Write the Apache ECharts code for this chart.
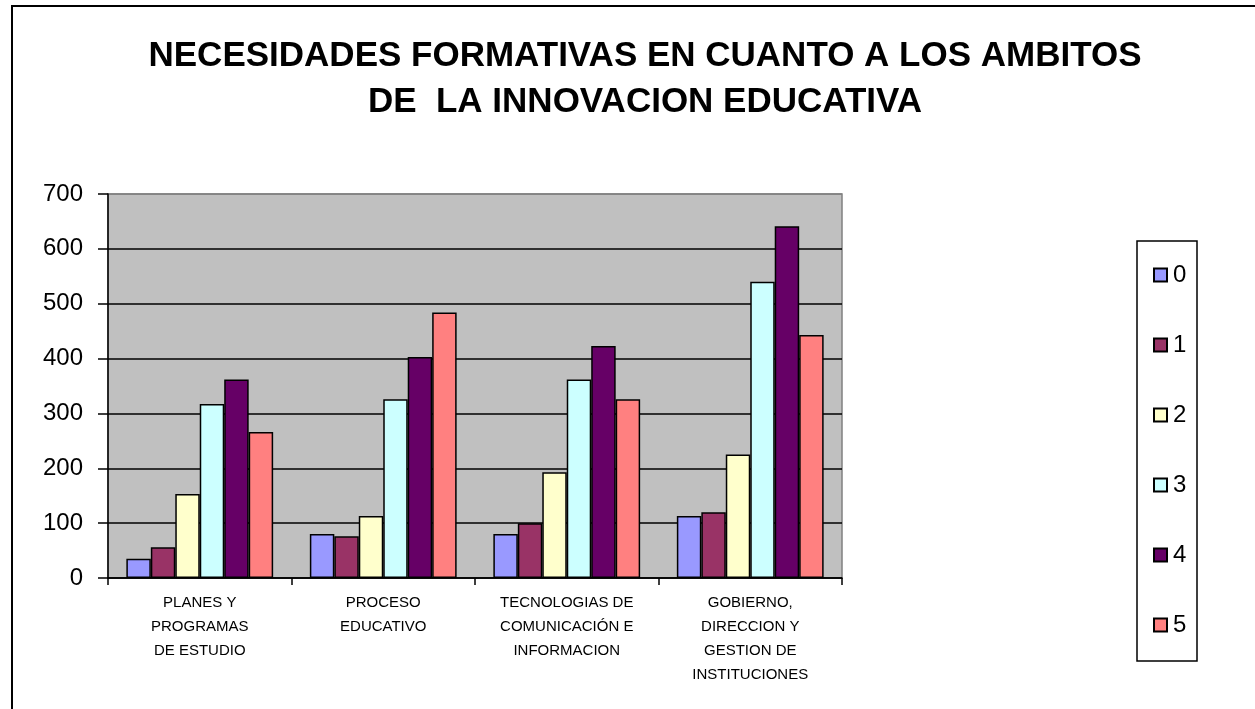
<!DOCTYPE html>
<html>
<head>
<meta charset="utf-8">
<script src="https://cdn.jsdelivr.net/npm/echarts@6/dist/echarts.min.js"></script>
<style>
  html, body { margin: 0; padding: 0; background: #fff; }
  #main { width: 1255px; height: 709px; }
</style>
</head>
<body>
<div id="main"></div>
<script>
var categories = [
  'PLANES Y\nPROGRAMAS\nDE ESTUDIO',
  'PROCESO\nEDUCATIVO',
  'TECNOLOGIAS DE\nCOMUNICACIÓN E\nINFORMACION',
  'GOBIERNO,\nDIRECCION Y\nGESTION DE\nINSTITUCIONES'
];
var seriesNames = ['0', '1', '2', '3', '4', '5'];
var seriesColors = ['#9999FF', '#993366', '#FFFFCC', '#CCFFFF', '#660066', '#FF8080'];

var values0 = [35, 80, 80, 113];
var values1 = [56, 76, 100, 120];
var values2 = [153, 113, 193, 225];
var values3 = [317, 326, 362, 540];
var values4 = [362, 403, 423, 641];
var values5 = [266, 484, 326, 443];
var allValues = [values0, values1, values2, values3, values4, values5];

var font = '"Liberation Sans", Arial, sans-serif';

var chart = echarts.init(document.getElementById('main'));

var series = seriesNames.map(function (name, i) {
  return {
    name: name,
    type: 'bar',
    data: allValues[i],
    barGap: '0%',
    barCategoryGap: '20%',
    itemStyle: {
      color: seriesColors[i],
      borderColor: '#000',
      borderWidth: 1.5
    }
  };
});

var option = {
  backgroundColor: '#fff',
  animation: false,
  title: {
    text: 'NECESIDADES FORMATIVAS EN CUANTO A LOS AMBITOS\nDE  LA INNOVACION EDUCATIVA',
    left: 640,
    top: 28,
    textAlign: 'center',
    textStyle: {
      fontFamily: font,
      fontSize: 35,
      fontWeight: 'bold',
      lineHeight: 46,
      color: '#000'
    }
  },
  graphic: [
    {
      type: 'rect',
      z: 0,
      shape: { x: 12, y: 6, width: 1300, height: 800 },
      style: { fill: 'none', stroke: '#000', lineWidth: 2 }
    },
    {
      type: 'rect',
      z: 0,
      shape: { x: 1137, y: 241, width: 60, height: 420 },
      style: { fill: '#fff', stroke: '#000', lineWidth: 1.5 }
    }
  ],
  legend: {
    orient: 'vertical',
    left: 1153,
    top: 263,
    z: 10,
    padding: 0,
    itemWidth: 13,
    itemHeight: 13,
    itemGap: 46,
    icon: 'rect',
    data: seriesNames,
    textStyle: {
      fontFamily: font,
      fontSize: 24,
      color: '#000',
      padding: [0, 0, 0, 1]
    }
  },
  grid: {
    left: 108,
    top: 194,
    width: 734,
    height: 384,
    show: true,
    backgroundColor: '#C0C0C0',
    borderColor: '#808080',
    borderWidth: 1.5
  },
  xAxis: {
    type: 'category',
    data: categories,
    axisLine: { lineStyle: { color: '#000', width: 1.5 } },
    axisTick: { show: true, length: 7, lineStyle: { color: '#000', width: 1.5 } },
    axisLabel: {
      interval: 0,
      margin: 13,
      fontFamily: font,
      fontSize: 15,
      lineHeight: 24,
      color: '#000'
    }
  },
  yAxis: {
    type: 'value',
    min: 0,
    max: 700,
    interval: 100,
    axisLine: { show: true, lineStyle: { color: '#000', width: 1.5 } },
    axisTick: { show: true, length: 10, lineStyle: { color: '#000', width: 1.5 } },
    axisLabel: {
      margin: 25,
      fontFamily: font,
      fontSize: 24,
      color: '#000'
    },
    splitLine: {
      show: true,
      lineStyle: {
        color: ['#000', '#000', '#000', '#000', '#000', '#000', '#000', '#808080'],
        width: 1.5
      }
    }
  },
  series: series
};

chart.setOption(option);
</script>
</body>
</html>
